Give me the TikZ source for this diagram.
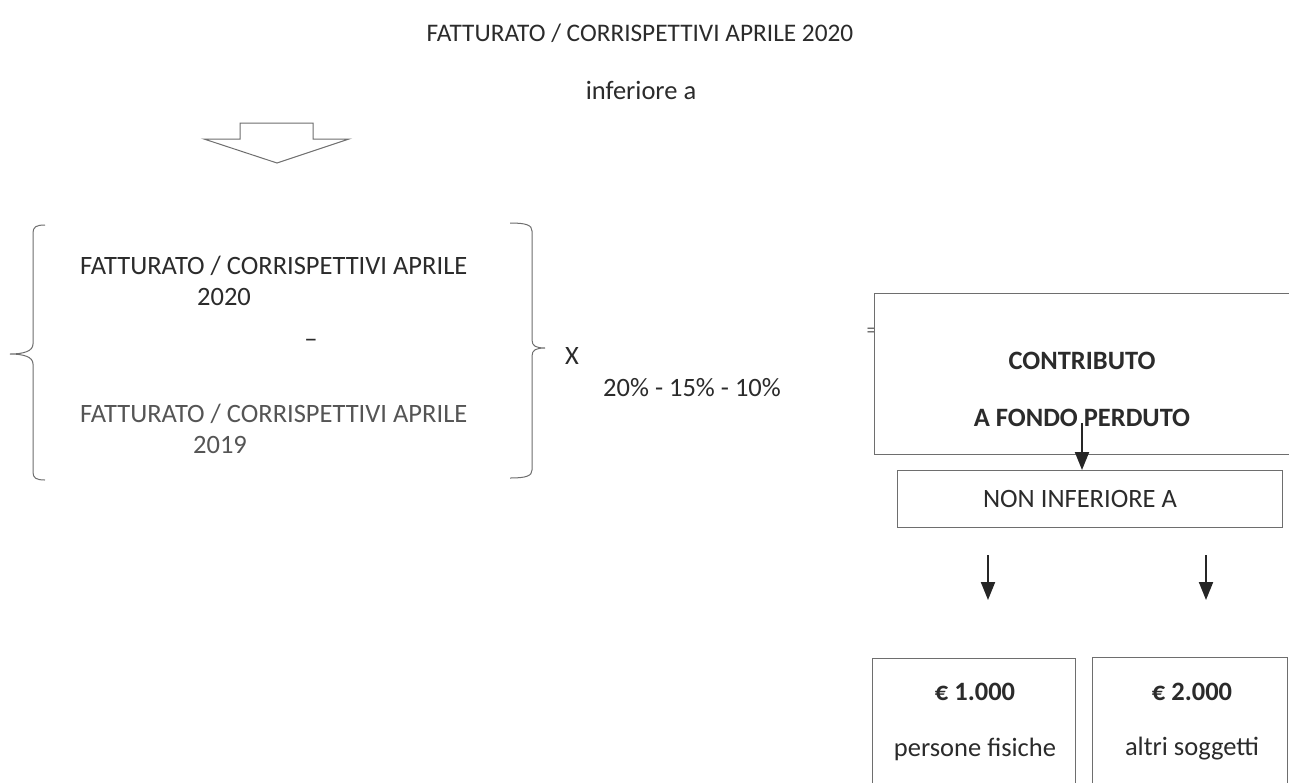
\documentclass[tikz,border=0pt]{standalone}
\usepackage{fontspec}
\setmainfont{Carlito}
\usetikzlibrary{arrows.meta}
\definecolor{txtc}{HTML}{2B2B2B}
\definecolor{txtl}{HTML}{555555}
\definecolor{linec}{HTML}{6E6E6E}
\begin{document}
\begin{tikzpicture}[x=1pt,y=-1pt,
  txt/.style={text=txtc,font=\fontsize{26.5}{30}\selectfont,inner sep=0pt},
  btxt/.style={txt,font=\fontsize{26.5}{30}\selectfont\bfseries},
  boxc/.style={draw=linec,line width=1pt,inner sep=0pt},
  arr/.style={draw=black!85,line width=2pt,-{Triangle[length=18pt,width=14pt]}},
  brace/.style={draw=linec,line width=1pt},
]
\useasboundingbox (0,0) rectangle (1289,782);
\fill[white] (0,0) rectangle (1289,782);

\node[txt,font=\fontsize{25.3}{30}\selectfont] (title) at (640,33) {FATTURATO / CORRISPETTIVI APRILE 2020};
\node[txt] (inf) at (641,90) {inferiore a};

% block arrow
\draw[linec,line width=1pt,line join=miter] (240,123) -- (313,123) -- (313,139) -- (349,139) -- (277,163) -- (204,139) -- (240,139) -- cycle;

% left brace
\draw[brace] (45,225) .. controls (36,225) and (33,227) .. (33,233) -- (33,344) .. controls (33,351) and (24,354) .. (10,354)
  .. controls (24,354) and (33,357) .. (33,364) -- (33,472) .. controls (33,478) and (36,480) .. (45,480);
% right brace
\draw[brace] (510,223) .. controls (526,223) and (532,225) .. (532,231) -- (532,340) .. controls (532,346) and (536,348) .. (545,348)
  .. controls (536,348) and (532,350) .. (532,356) -- (532,470) .. controls (532,476) and (526,478) .. (510,478);

\node[txt,anchor=west] (f1) at (80,266) {FATTURATO / CORRISPETTIVI APRILE};
\node[txt] (y1) at (224,297) {2020};
\node[txt] (minus) at (311,343) {–};
\node[txt,text=txtl,anchor=west] (f2) at (80,414) {FATTURATO / CORRISPETTIVI APRILE};
\node[txt,text=txtl] (y2) at (220,445) {2019};

\node[txt] (x) at (572,356) {X};
\node[txt] (pct) at (692,388) {20\% - 15\% - 10\%};

% right part
\node[txt,text=linec,font=\fontsize{22}{22}\selectfont] (eq) at (872,333) {=};
\draw[boxc,fill=white] (874,293) rectangle (1300,454);
\node[btxt] (c1) at (1082,361) {CONTRIBUTO};
\node[btxt] (c2) at (1082,418) {A FONDO PERDUTO};

\node[boxc,minimum width=385pt,minimum height=57pt] (non) at (1090,499) {};
\node[txt] (nontxt) at (1080,499) {NON INFERIORE A};
\coordinate (a1) at (1082,423);
\draw[arr] (a1) -- (non.north -| a1);

\coordinate (s1) at (988,555);
\coordinate (e1) at (988,600);
\coordinate (s2) at (1206,555);
\coordinate (e2) at (1206,600);
\draw[arr] (s1) -- (e1);
\draw[arr] (s2) -- (e2);

\node[boxc,anchor=north west,minimum width=203pt,minimum height=150pt] (b1) at (872,658) {};
\node[boxc,anchor=north west,minimum width=195pt,minimum height=150pt] (b2) at (1092,657) {};
\node[btxt] (v1) at (975,692) {€ 1.000};
\node[txt] (p1) at (975,749) {persone fisiche};
\node[btxt] (v2) at (1192,692) {€ 2.000};
\node[txt] (p2) at (1192,749) {altri soggetti};
\end{tikzpicture}
\end{document}
